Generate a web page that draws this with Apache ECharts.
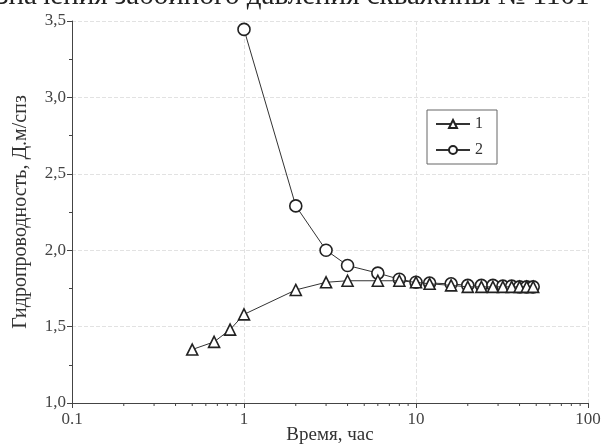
<!DOCTYPE html>
<html><head><meta charset="utf-8">
<script src="https://cdn.jsdelivr.net/npm/echarts@6/dist/echarts.min.js"></script>
<style>html,body{margin:0;padding:0;background:#fff}#c{width:602px;height:447px}</style>
</head><body><div id="c"></div>
<script>
const titleText = 'значения забойного давления скважины № 1101';
const xName = 'Время, час';
const yName = 'Гидропроводность, Д.м/спз';
const seriesNames = ['1', '2'];
const time1 = [0.5, 0.67, 0.83, 1, 2, 3, 4, 6, 8, 10, 12, 16, 20, 24, 28, 32, 36, 40, 44, 48];
const values1 = [1.35, 1.40, 1.48, 1.58, 1.74, 1.79, 1.80, 1.80, 1.80, 1.79, 1.78, 1.77, 1.76, 1.76, 1.76, 1.76, 1.76, 1.76, 1.76, 1.76];
const time2 = [1, 2, 3, 4, 6, 8, 10, 12, 16, 20, 24, 28, 32, 36, 40, 44, 48];
const values2 = [3.445, 2.29, 2.00, 1.90, 1.85, 1.81, 1.79, 1.785, 1.78, 1.77, 1.77, 1.77, 1.765, 1.765, 1.76, 1.76, 1.76];
const xMinorTicks = [0.2, 0.3, 0.4, 0.5, 0.6, 0.7, 0.8, 0.9, 2, 3, 4, 5, 6, 7, 8, 9, 20, 30, 40, 50, 60, 70, 80, 90];

const font = 'Liberation Serif';
const chart = echarts.init(document.getElementById('c'), null, {renderer: 'canvas'});
const pair = (xs, ys) => xs.map((x, i) => [x, ys[i]]);
chart.setOption({
  animation: false,
  backgroundColor: '#fff',
  grid: {left: 72, right: 14, top: 21, bottom: 44, containLabel: false, outerBoundsMode: 'none'},
  graphic: [{
    type: 'text', left: -3, top: -18,
    style: {text: titleText, font: '29px "Liberation Serif"', fill: '#222'}
  }],
  legend: {
    orient: 'vertical', left: 427, top: 110,
    itemWidth: 34, itemHeight: 10, itemGap: 10,
    padding: [6, 14, 6, 8],
    borderColor: '#666', borderWidth: 1,
    textStyle: {fontFamily: font, fontSize: 16, color: '#333'},
    data: seriesNames
  },
  xAxis: {
    type: 'log', logBase: 10, min: 0.1, max: 100,
    name: xName, nameLocation: 'middle', nameGap: 23, nameMoveOverlap: false,
    nameTextStyle: {fontFamily: font, fontSize: 19, color: '#333'},
    axisLine: {lineStyle: {color: '#444', width: 1}},
    axisTick: {show: true, length: 5, inside: false, lineStyle: {color: '#444'}},
    axisLabel: {fontFamily: font, fontSize: 17, color: '#444', margin: 8,
      formatter: v => String(v)},
    splitLine: {show: true, lineStyle: {color: '#e2e2e2', type: 'dashed'}}
  },
  yAxis: {
    type: 'value', min: 1.0, max: 3.5, interval: 0.5,
    name: yName, nameLocation: 'middle', nameGap: 41, nameRotate: 90, nameMoveOverlap: false,
    nameTextStyle: {fontFamily: font, fontSize: 20, color: '#333'},
    axisLine: {show: true, lineStyle: {color: '#444', width: 1}},
    axisTick: {show: true, length: 5, lineStyle: {color: '#444'}},
    minorTick: {show: true, splitNumber: 2, length: 3, lineStyle: {color: '#444'}},
    axisLabel: {fontFamily: font, fontSize: 17, color: '#444', margin: 6,
      formatter: v => v.toFixed(1).replace('.', ',')},
    splitLine: {show: true, lineStyle: {color: '#e2e2e2', type: 'dashed'}}
  },
  series: [
    {
      name: seriesNames[0], type: 'line', data: pair(time1, values1),
      symbol: 'triangle', symbolSize: 11,
      lineStyle: {color: '#333', width: 1},
      itemStyle: {color: '#fff', borderColor: '#222', borderWidth: 1.6},
      z: 3
    },
    {
      name: seriesNames[1], type: 'line', data: pair(time2, values2),
      symbol: 'circle', symbolSize: 12,
      lineStyle: {color: '#333', width: 1},
      itemStyle: {color: '#fff', borderColor: '#222', borderWidth: 1.6},
      z: 2
    },
    {
      type: 'custom', silent: true, data: xMinorTicks.map(v => [v, 1.0]),
      renderItem: (params, api) => {
        const p = api.coord([api.value(0), api.value(1)]);
        return {type: 'line', shape: {x1: p[0], y1: p[1], x2: p[0], y2: p[1] + 3},
          style: {stroke: '#444', lineWidth: 1}};
      },
      z: 5
    }
  ]
});
</script></body></html>
